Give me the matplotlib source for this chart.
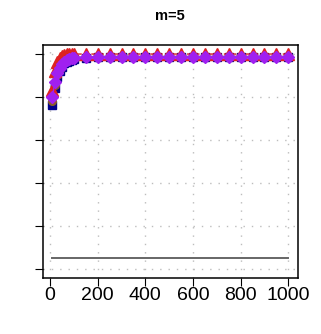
import matplotlib
matplotlib.use("Agg")
import matplotlib.pyplot as plt

plt.rcParams['font.family'] = ['Liberation Sans', 'DejaVu Sans']

# sample sizes
n = [10, 20, 30, 40, 50, 60, 70, 80, 90, 100, 150, 200, 250, 300, 350, 400,
     450, 500, 550, 600, 650, 700, 750, 800, 850, 900, 950, 1000]

# power curves
p_square = [0.76, 0.84, 0.89, 0.92, 0.94, 0.955, 0.96, 0.965, 0.97, 0.975, 0.98, 0.982,
            0.982, 0.982, 0.982, 0.982, 0.982, 0.982, 0.982, 0.982, 0.982, 0.982, 0.982,
            0.982, 0.982, 0.982, 0.982, 0.982]
p_brown = [0.78, 0.855, 0.90, 0.93, 0.95, 0.96, 0.965, 0.97, 0.975, 0.98, 0.985, 0.987,
           0.987, 0.987, 0.987, 0.987, 0.987, 0.987, 0.987, 0.987, 0.987, 0.987, 0.987,
           0.987, 0.987, 0.987, 0.987, 0.987]
p_tri = [0.83, 0.92, 0.96, 0.98, 0.99, 0.995, 0.997, 0.998, 0.998, 0.998, 0.998, 0.998,
         0.998, 0.998, 0.998, 0.998, 0.998, 0.998, 0.998, 0.998, 0.998, 0.998, 0.998,
         0.998, 0.998, 0.998, 0.998, 0.998]
p_diam = [0.80, 0.87, 0.91, 0.935, 0.95, 0.96, 0.97, 0.975, 0.98, 0.98, 0.985, 0.986,
          0.986, 0.986, 0.986, 0.986, 0.986, 0.986, 0.986, 0.986, 0.986, 0.986, 0.986,
          0.986, 0.986, 0.986, 0.986, 0.986]
alpha = 0.05

fig = plt.figure(figsize=(3.21, 3.34), dpi=100)
ax = fig.add_axes([0.134, 0.1686, 0.7934, 0.6967])

xt = [0, 200, 400, 600, 800, 1000]
yt = [0, 0.2, 0.4, 0.6, 0.8, 1.0]
for v in xt:
    ax.axvline(v, color='#bdbdbd', ls=(0, (1, 5)), lw=1, zorder=0)
for v in yt:
    ax.axhline(v, color='#bdbdbd', ls=(0, (1, 5)), lw=1, zorder=0)

ax.plot(n, [alpha] * len(n), color='#666666', lw=1.4)
ax.plot(n, p_square, color='#00008B', marker='s', ms=6, lw=1)
ax.plot(n, p_brown, color='#8B5A2B', marker='o', ms=5.5, lw=1)
ax.plot(n, p_tri, color='#DD2222', marker='^', ms=8.5, lw=1, ls='--')
ax.plot(n, p_diam, color='#A020F0', marker='D', ms=6.5, lw=1)

ax.set_xlim(10 - 0.04 * 990, 1000 + 0.04 * 990)
ax.set_ylim(-0.04, 1.04)
ax.set_xticks(xt)
ax.set_yticks(yt)
ax.set_yticklabels([])
ax.tick_params(length=6, width=0.8, labelsize=14, pad=1)
for s in ax.spines.values():
    s.set_linewidth(1.1)

ax.set_title("m=5", fontsize=10.5, fontweight='bold', pad=18)

fig.savefig("out.png", dpi=100)
